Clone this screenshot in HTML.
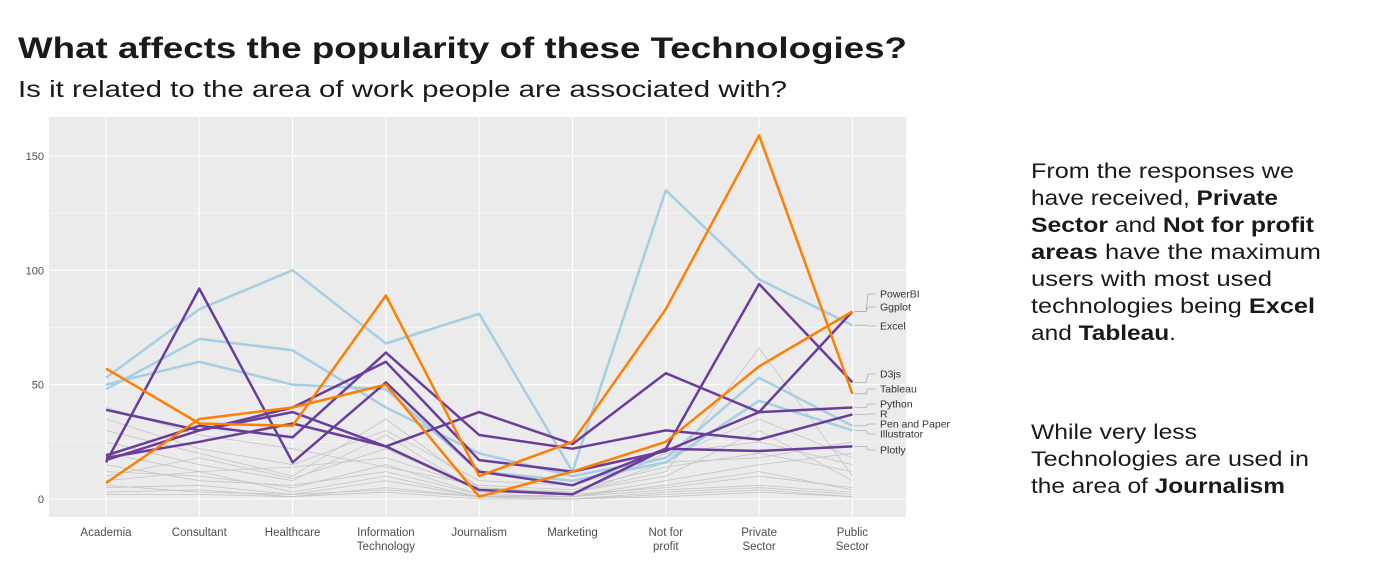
<!DOCTYPE html>
<html><head><meta charset="utf-8"><style>
html,body{margin:0;padding:0;background:#fff;}
svg{display:block;font-family:"Liberation Sans",sans-serif;}
</style></head><body>
<svg id="chart" width="1394" height="586" viewBox="0 0 1394 586">
<text x="18" y="58" font-size="30" font-weight="bold" fill="#1a1a1a" textLength="889" lengthAdjust="spacingAndGlyphs">What affects the popularity of these Technologies?</text>
<text x="18" y="97" font-size="23" fill="#1a1a1a" textLength="769" lengthAdjust="spacingAndGlyphs">Is it related to the area of work people are associated with?</text>
<rect x="49" y="117" width="857" height="400" fill="#ebebeb"/>
<g id="grid"></g>
<g id="gray"></g>
<g id="hl"></g>
<g id="ticks"></g>
<g id="labels"></g>
<g font-size="21" fill="#1a1a1a">
<text x="1031" y="178" textLength="263" lengthAdjust="spacingAndGlyphs">From the responses we</text>
<text x="1031" y="205" textLength="247" lengthAdjust="spacingAndGlyphs">have received, <tspan font-weight="bold">Private</tspan></text>
<text x="1031" y="232" textLength="283" lengthAdjust="spacingAndGlyphs"><tspan font-weight="bold">Sector</tspan> and <tspan font-weight="bold">Not for profit</tspan></text>
<text x="1031" y="259" textLength="290" lengthAdjust="spacingAndGlyphs"><tspan font-weight="bold">areas</tspan> have the maximum</text>
<text x="1031" y="286" textLength="241" lengthAdjust="spacingAndGlyphs">users with most used</text>
<text x="1031" y="313" textLength="284" lengthAdjust="spacingAndGlyphs">technologies being <tspan font-weight="bold">Excel</tspan></text>
<text x="1031" y="340" textLength="145" lengthAdjust="spacingAndGlyphs">and <tspan font-weight="bold">Tableau</tspan>.</text>
<text x="1031" y="439" textLength="166" lengthAdjust="spacingAndGlyphs">While very less</text>
<text x="1031" y="466" textLength="278" lengthAdjust="spacingAndGlyphs">Technologies are used in</text>
<text x="1031" y="493" textLength="254" lengthAdjust="spacingAndGlyphs">the area of <tspan font-weight="bold">Journalism</tspan></text>
</g>
</svg>
<script>
const categories = ["Academia","Consultant","Healthcare","Information\nTechnology","Journalism","Marketing","Not for\nprofit","Private\nSector","Public\nSector"];
const yTicks = [0,50,100,150];
const seriesNames = ["Excel","Tableau","Ggplot","D3js","PowerBI","Python","R","Pen and Paper","Illustrator","Plotly"];
const seriesColors = ["#a6cee3","#ff7f00","#ff7f00","#6a3d9a","#6a3d9a","#6a3d9a","#6a3d9a","#a6cee3","#a6cee3","#6a3d9a"];
const excel = [53,83,100,68,81,12,135,96,76];
const tableau = [57,33,32,89,10,25,83,159,46];
const ggplot = [7,35,40,50,1,12,25,58,82];
const d3js = [16,92,16,51,12,6,22,94,51];
const powerbi = [17,30,40,60,17,12,21,38,82];
const python = [39,30,38,23,38,24,55,38,40];
const rLang = [19,32,27,64,28,22,30,26,37];
const penPaper = [48,70,65,40,20,10,18,53,32];
const illustrator = [50,60,50,48,12,8,16,43,30];
const plotly = [18,25,33,23,4,2,22,21,23];
const seriesValues = [excel,tableau,ggplot,d3js,powerbi,python,rLang,penPaper,illustrator,plotly];
const labelYs = [326,389,307,374,294,404,414,424,434,450];
const gray1 = [30,20,10,35,5,3,12,66,10];
const gray2 = [25,15,8,28,3,2,20,25,15];
const gray3 = [12,10,5,15,2,1,8,15,20];
const gray4 = [8,12,3,10,1,2,5,10,5];
const gray5 = [5,6,2,8,1,1,4,6,3];
const gray6 = [3,4,1,5,1,0,3,5,2];
const gray7 = [40,28,22,14,6,4,14,20,12];
const gray8 = [10,18,9,22,4,3,10,30,8];
const gray9 = [15,8,6,12,2,1,6,12,4];
const gray10 = [6,3,2,4,1,0,2,4,1];
const gray11 = [20,12,14,18,5,2,16,18,25];
const gray12 = [2,2,1,3,0,0,1,3,1];
const gray13 = [35,22,15,30,8,6,18,35,18];
const grayValues = [gray1,gray2,gray3,gray4,gray5,gray6,gray7,gray8,gray9,gray10,gray11,gray12,gray13];

const NS="http://www.w3.org/2000/svg";
const xScale = i => 106 + 93.3*i;
const yScale = v => 499 - v*2.287;
function mk(tag, attrs, parent){const e=document.createElementNS(NS,tag);for(const k in attrs)e.setAttribute(k,attrs[k]);parent.appendChild(e);return e;}
const grid=document.getElementById('grid');
for(let v=0; v<=175; v+=25){
  const y=yScale(v); if(y<117) continue;
  const l=mk('line',{x1:49,x2:906,y1:y,y2:y,stroke:'#fff','stroke-width':v%50===0?1.1:0.5},grid);
  
  
}
categories.forEach((c,i)=>{
  const l=mk('line',{x1:xScale(i),x2:xScale(i),y1:117,y2:517,stroke:'#fff','stroke-width':1.1},grid);
  
  
});
const ticks=document.getElementById('ticks');
yTicks.forEach(v=>{
  const t=mk('text',{x:44,y:yScale(v)+4,'text-anchor':'end','font-size':11,fill:'#4d4d4d'},ticks);
  t.textContent=v;
  
  
});
categories.forEach((c,i)=>{
  const t=mk('text',{x:xScale(i),y:536,'text-anchor':'middle','font-size':11.5,fill:'#4d4d4d'},ticks);
  
  
  c.split('\n').forEach((p,j)=>{const s=mk('tspan',{x:xScale(i),dy:j?14:0},t);s.textContent=p;});
});
const pathD = vals => vals.map((v,i)=>(i?'L':'M')+xScale(i).toFixed(1)+','+yScale(v).toFixed(1)).join(' ');
const gray=document.getElementById('gray');
grayValues.forEach(vals=>{
  const p=mk('path',{d:pathD(vals),fill:'none',stroke:'#c4c4c4','stroke-width':0.8},gray);
  
  
});
const hl=document.getElementById('hl');
const order=[0,7,8,3,4,5,6,9,1,2];
order.forEach(k=>{
  const p=mk('path',{d:pathD(seriesValues[k]),fill:'none',stroke:seriesColors[k],'stroke-width':2.5,'stroke-linejoin':'round'},hl);
  
  
});
const labels=document.getElementById('labels');
seriesNames.forEach((n,k)=>{
  const ey=yScale(seriesValues[k][8]); const ly=labelYs[k];
  const l=mk('path',{d:`M${xScale(8)+2},${ey} L866,${ey} L868,${ly} L876,${ly}`,fill:'none',stroke:'#b0b0b0','stroke-width':0.8},labels);
  
  
  const t=mk('text',{x:880,y:ly+3.5,'font-size':10.5,fill:'#333'},labels);
  t.textContent=n;
  
  
});
</script>
</body></html>
